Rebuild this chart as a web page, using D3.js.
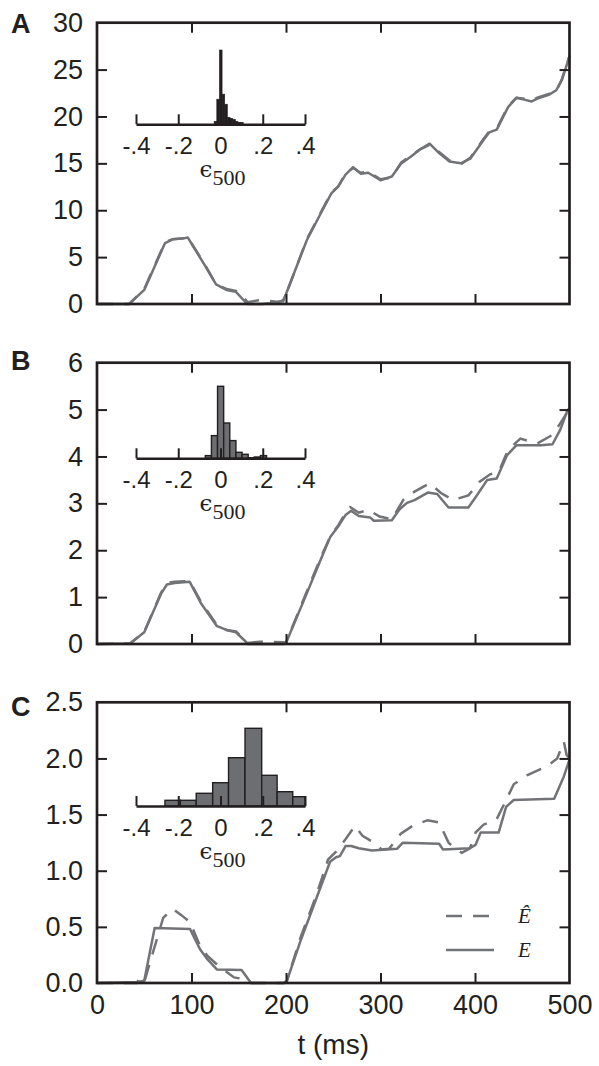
<!DOCTYPE html>
<html><head><meta charset="utf-8">
<script src="https://cdn.jsdelivr.net/npm/d3@7"></script>
<style>body{margin:0;background:#fff}</style>
</head><body>
<svg id="c" width="599" height="1066"></svg>
<script>
// ---------- data ----------
const panelLabels = ["A", "B", "C"];
const timeTicks = [0, 100, 200, 300, 400, 500];
const yTicksA = [0, 5, 10, 15, 20, 25, 30];
const yTicksB = [0, 1, 2, 3, 4, 5, 6];
const yTicksC = [0, 0.5, 1.0, 1.5, 2.0, 2.5];
const histTicks = [-0.4, -0.2, 0, 0.2, 0.4];
const histTickLabels = ["-.4", "-.2", "0", ".2", ".4"];
const legendLabels = ["Ê", "E"];

// Panel A : E (solid) and Ê (dashed)
const tA    = [0,34,50,72,80,92,96,113,126,137,147,159,175,190,197,200,222,237,248,255,263,271,279,287,300,312,322,332,342,352,362,373,385,395,409,415,423,435,444,452,460,466,478,486,492,500];
const eA    = [0,0,1.5,6.5,6.9,7.0,7.1,4.3,2.1,1.5,1.3,0,0,0.15,0.4,1.07,6.8,9.7,11.8,12.5,13.8,14.6,13.9,14.0,13.2,13.6,15.0,15.7,16.5,17.1,16.1,15.2,15.0,15.5,17.5,18.3,18.6,21.0,22.0,21.8,21.6,21.9,22.3,22.8,23.9,26.4];
const tAhat = [0,34,50,72,80,92,96,113,126,137,147,153,159,172,190,197,200,222,237,248,255,263,271,279,287,300,312,322,332,342,352,362,373,385,395,409,415,423,435,444,452,460,466,478,486,492,500];
const eAhat = [0,0,1.6,6.6,6.9,7.0,7.1,4.4,2.1,1.6,1.4,1.0,0.2,0.4,0.25,0.3,1.0,6.9,9.8,11.9,12.5,13.9,14.5,14.0,14.1,13.3,13.5,15.1,15.8,16.5,17.0,16.2,15.3,14.9,15.6,17.6,18.4,18.7,21.1,22.0,21.9,21.7,22.0,22.4,22.7,24.0,26.5];

// Panel B
const tB    = [0,35,50,68,74,82,98,110,127,137,147,160,198,200,222,238,247,255,263,269,277,289,293,312,320,328,336,350,360,372,393,401,413,423,434,444,470,482,490,498,500];
const eB    = [0,0.01,0.25,1.08,1.27,1.3,1.33,0.87,0.38,0.3,0.25,0,0,0.02,1.08,1.86,2.29,2.5,2.75,2.84,2.73,2.7,2.63,2.64,2.87,3.01,3.07,3.23,3.2,2.91,2.91,3.14,3.5,3.53,4.03,4.24,4.24,4.26,4.56,4.99,5.02];
const tBhat = [0,35,50,68,74,82,98,110,127,137,147,160,172,198,200,222,238,247,255,263,268,277,287,299,312,324,336,352,364,377,393,405,416,425,435,448,466,482,490,500];
const eBhat = [0,0.01,0.26,1.1,1.3,1.33,1.34,0.9,0.4,0.3,0.27,0.02,0.05,0.04,0.03,1.12,1.9,2.3,2.52,2.8,2.92,2.8,2.86,2.72,2.66,3.07,3.25,3.43,3.22,3.07,3.17,3.46,3.62,3.67,4.14,4.38,4.28,4.46,4.7,5.02];

// Panel C
const tC    = [0,42,50,61,98.5,109,117,127,153,163,198,201,216,232,246.6,253,257,263,269,277,291,317.5,323.6,362,366,394.6,400.6,406,425,433,441,483.8,494,500];
const eC    = [0,0.01,0.02,0.49,0.48,0.30,0.21,0.12,0.115,0,0,0.02,0.39,0.75,1.08,1.12,1.13,1.22,1.22,1.20,1.18,1.195,1.25,1.24,1.19,1.20,1.23,1.34,1.34,1.57,1.63,1.64,1.84,1.99];
const tChat = [0,42,46,50,70,80,90,98.5,109,117,129,145,155,163,198,201,216,232,244.5,253,263,273,281,289,295,301,309,321.5,334,350,362,372,380,386,394.6,400.6,409,423,433,441,455,476,487,494,497,500];
const eChat = [0,0,0.05,0.01,0.58,0.66,0.60,0.54,0.33,0.24,0.15,0.05,0.035,0,0,0.02,0.42,0.78,1.10,1.17,1.28,1.40,1.31,1.27,1.24,1.19,1.195,1.33,1.40,1.45,1.43,1.25,1.19,1.16,1.20,1.34,1.41,1.46,1.63,1.77,1.85,1.93,2.0,2.15,2.03,2.0];

// Inset histograms of epsilon_500 (bin edges and relative counts)
const histEdgesA  = [-0.03,-0.0175,-0.005,0.0075,0.02,0.0325,0.045,0.0575,0.07,0.0825,0.095,0.1075];
const histCountsA = [3,25,74,30,20,7,6,5,3,2,2];
const histEdgesB  = [-0.072,-0.043,-0.014,0.015,0.044,0.073,0.102,0.131,0.160,0.189,0.218];
const histCountsB = [2.7,22.7,72,35.3,17.7,6,4,0.6,1.3,2.7];
const histEdgesC  = [-0.263,-0.19,-0.115,-0.037,0.038,0.116,0.195,0.268,0.342,0.40];
const histCountsC = [5.7,5.7,12.7,23.3,48.3,77.7,30.7,14.3,9.3];

// ---------- layout / style ----------
const INK = "#231f20", LINE = "#727376", BAR = "#6d6e71";
const L = 97, R = 569.5;
const panels = [
  {label: panelLabels[0], top: 22.7, bottom: 304, ymax: 30, yTicks: yTicksA, fmt: d3.format("d"),
   t: tA, e: eA, th: tAhat, eh: eAhat, edges: histEdgesA, counts: histCountsA, barFill: INK,
   insetY: 124.3, insetH: 74.3, labelY: 33, xLabels: false, legend: false},
  {label: panelLabels[1], top: 362.7, bottom: 644, ymax: 6, yTicks: yTicksB, fmt: d3.format("d"),
   t: tB, e: eB, th: tBhat, eh: eBhat, edges: histEdgesB, counts: histCountsB, barFill: BAR,
   insetY: 458.3, insetH: 72, labelY: 370, xLabels: false, legend: false},
  {label: panelLabels[2], top: 702.3, bottom: 983, ymax: 2.5, yTicks: yTicksC, fmt: d3.format(".1f"),
   t: tC, e: eC, th: tChat, eh: eChat, edges: histEdgesC, counts: histCountsC, barFill: BAR,
   insetY: 806, insetH: 77.7, labelY: 716, xLabels: true, legend: true}
];

const svg = d3.select("#c");
const x = d3.scaleLinear().domain([0, 500]).range([L, R]);
const hx = d3.scaleLinear().domain([-0.4, 0.4]).range([136, 305]);
const DASH = "16,11";

panels.forEach(p => {
  const y = d3.scaleLinear().domain([0, p.ymax]).range([p.bottom, p.top]);
  const g = svg.append("g");

  // lines
  const line = d3.line().x(d => x(d[0])).y(d => y(d[1]));
  g.append("path").datum(d3.zip(p.th, p.eh)).attr("d", line)
    .attr("fill", "none").attr("stroke", LINE).attr("stroke-width", 2.5)
    .attr("stroke-dasharray", DASH);
  g.append("path").datum(d3.zip(p.t, p.e)).attr("d", line)
    .attr("fill", "none").attr("stroke", LINE).attr("stroke-width", 2.5)
    .attr("stroke-linejoin", "round");

  // axes (inward ticks on all sides)
  const inner = timeTicks.filter(v => v > 0 && v < 500);
  const yInner = p.yTicks.filter(v => v > 0 && v < p.ymax);
  const styleAxis = (sel) => {
    sel.select(".domain").remove();
    sel.selectAll(".tick line").attr("stroke", INK).attr("stroke-width", 2);
    sel.selectAll("text").attr("fill", INK).attr("font-family", "Liberation Sans, Arial, sans-serif");
  };
  g.append("g").attr("transform", `translate(0,${p.bottom})`)
    .call(d3.axisBottom(x).tickValues(p.xLabels ? timeTicks : inner).tickSizeInner(-10).tickSizeOuter(0)
      .tickPadding(11.5).tickFormat(p.xLabels ? d3.format("d") : () => ""))
    .call(styleAxis)
    .call(s => s.selectAll(".tick line").filter(d => d === 0 || d === 500).remove())
    .call(s => s.selectAll("text").attr("font-size", 27));
  g.append("g").attr("transform", `translate(0,${p.top})`)
    .call(d3.axisTop(x).tickValues(inner).tickSizeInner(-10).tickSizeOuter(0).tickFormat(() => ""))
    .call(styleAxis);
  g.append("g").attr("transform", `translate(${L},0)`)
    .call(d3.axisLeft(y).tickValues(p.yTicks).tickSizeInner(-10).tickSizeOuter(0).tickPadding(14).tickFormat(p.fmt))
    .call(styleAxis)
    .call(s => s.selectAll(".tick line").filter(d => d === 0 || d === p.ymax).remove())
    .call(s => s.selectAll("text").attr("font-size", 27));
  g.append("g").attr("transform", `translate(${R},0)`)
    .call(d3.axisRight(y).tickValues(yInner).tickSizeInner(-10).tickSizeOuter(0).tickFormat(() => ""))
    .call(styleAxis);

  // frame
  g.append("rect").attr("x", L).attr("y", p.top).attr("width", R - L).attr("height", p.bottom - p.top)
    .attr("fill", "none").attr("stroke", INK).attr("stroke-width", 2.7);

  // panel label
  g.append("text").attr("x", 11).attr("y", p.labelY).text(p.label)
    .attr("font-family", "Liberation Sans, Arial, sans-serif").attr("font-weight", "bold")
    .attr("font-size", 27).attr("fill", INK);

  // inset histogram
  const hy = d3.scaleLinear().domain([0, d3.max(p.counts)]).range([p.insetY, p.insetY - p.insetH]);
  const bins = p.counts.map((c, i) => ({x0: p.edges[i], x1: p.edges[i + 1], c}));
  g.append("g").selectAll("rect").data(bins).join("rect")
    .attr("x", d => hx(d.x0)).attr("width", d => hx(d.x1) - hx(d.x0))
    .attr("y", d => hy(d.c)).attr("height", d => hy(0) - hy(d.c))
    .attr("fill", p.barFill).attr("stroke", INK).attr("stroke-width", p.barFill === INK ? 0.6 : 1.4);
  const ia = g.append("g").attr("transform", `translate(0,${p.insetY})`)
    .call(d3.axisBottom(hx).tickValues(histTicks).tickSizeInner(-10).tickSizeOuter(0).tickPadding(13)
      .tickFormat((d, i) => histTickLabels[i]));
  ia.select(".domain").attr("stroke", INK).attr("stroke-width", 2.6);
  ia.selectAll(".tick line").attr("stroke", INK).attr("stroke-width", 2);
  ia.selectAll("text").attr("fill", INK).attr("font-size", 24)
    .attr("font-family", "Liberation Sans, Arial, sans-serif");
  const eps = g.append("text").attr("x", hx(0) + 2).attr("y", p.insetY + 53)
    .attr("text-anchor", "middle").attr("fill", INK);
  eps.append("tspan").text("ϵ").attr("font-family", "DejaVu Serif, serif").attr("font-size", 23);
  eps.append("tspan").text("500").attr("dy", 8).attr("font-family", "Liberation Serif, serif").attr("font-size", 22);

  // legend
  if (p.legend) {
    const lg = g.append("g");
    const items = [{lab: legendLabels[0], dash: DASH, y: 916}, {lab: legendLabels[1], dash: null, y: 950}];
    items.forEach(it => {
      lg.append("line").attr("x1", 446).attr("x2", 494).attr("y1", it.y).attr("y2", it.y)
        .attr("stroke", LINE).attr("stroke-width", 2.6).attr("stroke-dasharray", it.dash);
      lg.append("text").attr("x", 518).attr("y", it.y + 7).text(it.lab)
        .attr("font-family", "Liberation Serif, serif").attr("font-style", "italic")
        .attr("font-size", 21).attr("fill", INK);
    });
  }
});

// x axis title
svg.append("text").attr("x", (L + R) / 2).attr("y", 1054).attr("text-anchor", "middle")
  .text("t (ms)").attr("font-family", "Liberation Sans, Arial, sans-serif")
  .attr("font-size", 28).attr("fill", INK);
</script>
</body></html>
